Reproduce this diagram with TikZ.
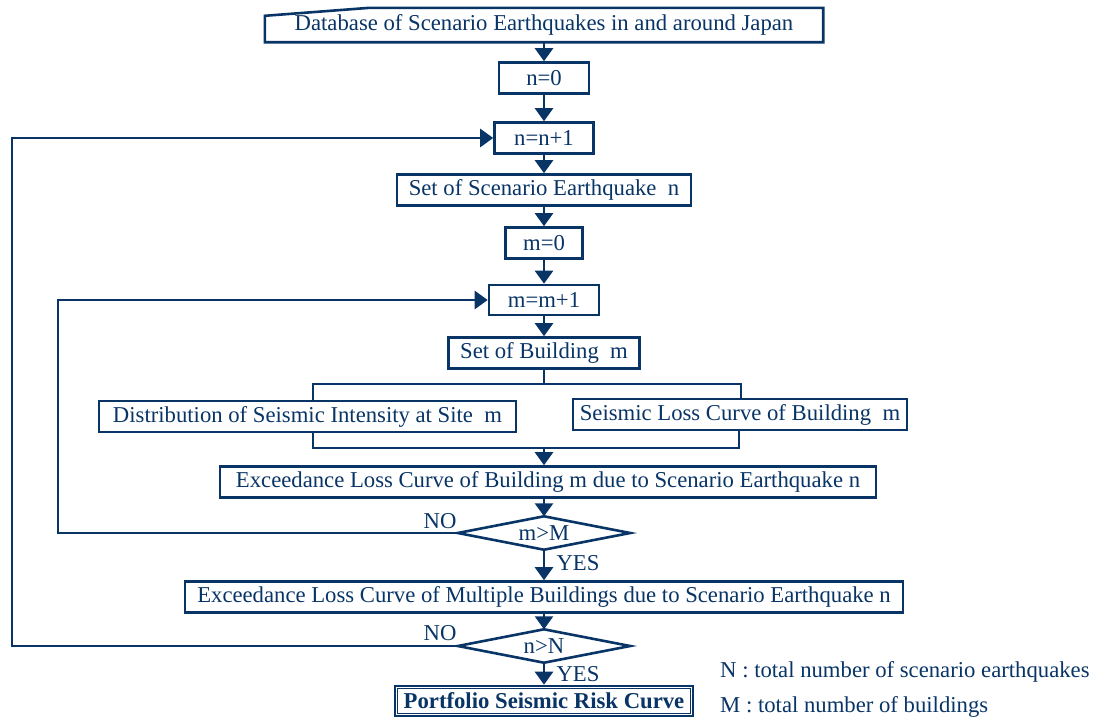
\documentclass[tikz,border=0pt]{standalone}
\usepackage{fontspec}
\setmainfont{Liberation Serif}
\usetikzlibrary{arrows.meta,shapes.geometric}
\definecolor{navy}{RGB}{8,52,102}
\begin{document}
\begin{tikzpicture}[x=1pt,y=-1pt,
  font=\fontsize{22.7}{26}\selectfont,
  box/.style={draw=navy, line width=2.6pt, inner sep=0pt, text=navy},
  plain/.style={inner sep=0pt, text=navy},
  arr/.style={-{Triangle[width=18pt,length=13pt]}, draw=navy, line width=2.6pt},
  ln/.style={draw=navy, line width=2.6pt},
  dia/.style={inner sep=0pt, text=navy, minimum width=172pt, minimum height=33pt}]
\useasboundingbox (0,0) rectangle (1095,720);

% database (manual input shape)
\node[plain, minimum width=558pt, minimum height=34pt] (db) at (544,25) {Database of Scenario Earthquakes in and around Japan};
\draw[ln, line join=miter] (db.south west) -- ([yshift=-8pt]db.north west) -- ([xshift=105pt]db.north west) -- (db.north east) -- (db.south east) -- cycle;

\node[box, minimum width=90pt, minimum height=31pt] (n0) at (544,78) {n=0};
\node[box, minimum width=99pt, minimum height=31pt] (n1) at (544,138) {n=n+1};
\node[box, minimum width=294pt, minimum height=31pt] (sen) at (544,190) {Set of Scenario Earthquake\ \ n};
\node[box, minimum width=77pt, minimum height=31pt] (m0) at (544,243) {m=0};
\node[box, minimum width=110pt, minimum height=30pt] (m1) at (544,300) {m=m+1};
\node[box, minimum width=191pt, minimum height=31pt] (sb) at (544,353) {Set of Building\ \ m};
\node[box, minimum width=417pt, minimum height=31pt] (dist) at (307.5,416.5) {Distribution of Seismic Intensity at Site\ \ m};
\node[box, minimum width=334pt, minimum height=31pt] (loss) at (740,414.5) {Seismic Loss Curve of Building\ \ m};
\node[box, minimum width=656pt, minimum height=31pt] (ex1) at (548,482) {Exceedance Loss Curve of Building m due to Scenario Earthquake n};
\node[dia] (d1) at (544,533) {m>M};
\draw[ln, line join=miter] (d1.west) -- (d1.north) -- (d1.east) -- (d1.south) -- cycle;
\node[box, minimum width=718pt, minimum height=31pt] (ex2) at (544,597) {Exceedance Loss Curve of Multiple Buildings due to Scenario Earthquake n};
\node[dia] (d2) at (544,646) {n>N};
\draw[ln, line join=miter] (d2.west) -- (d2.north) -- (d2.east) -- (d2.south) -- cycle;
\node[box, minimum width=298pt, minimum height=30pt, font=\fontsize{22.7}{26}\selectfont\bfseries] (pf) at (544,701) {Portfolio Seismic Risk Curve};
\draw[navy, line width=1.2pt] ([shift={(3.6pt,-3.6pt)}]pf.north west) rectangle ([shift={(-3.6pt,3.6pt)}]pf.south east);

% labels
\node[plain] (no1) at (440,521) {NO};
\node[plain] (yes1) at (578,563) {YES};
\node[plain] (no2) at (440,633) {NO};
\node[plain] (yes2) at (578,674) {YES};
\node[plain, anchor=west] (lgN) at (720,672) {N : total number of scenario earthquakes};
\node[plain, anchor=west] (lgM) at (720,707) {M : total number of buildings};

% main flow
\draw[arr] (db) -- (n0);
\draw[arr] (n0) -- (n1);
\draw[arr] (n1) -- (sen);
\draw[arr] (sen) -- (m0);
\draw[arr] (m0) -- (m1);
\draw[arr] (m1) -- (sb);

% branch
\coordinate (br) at (544,384);
\coordinate (brL) at (313,384);
\coordinate (brR) at (741,384);
\draw[ln] (sb) -- (br);
\draw[ln, line cap=rect] (brL) -- (brR);
\draw[ln] (brL) -- (brL |- dist.north);
\draw[ln] (brR) -- (brR |- loss.north);

% merge
\coordinate (mg) at (544,448);
\coordinate (mgL) at (313,448);
\coordinate (mgR) at (739,448);
\draw[ln, line join=miter] (mgL |- dist.south) -- (mgL) -- (mgR) -- (mgR |- loss.south);
\draw[arr] (mg) -- (mg |- ex1.north);

\draw[arr] (ex1.south -| d1.north) -- (d1.north);
\draw[arr] (d1.south) -- (ex2.north -| d1.south);
\draw[arr] (ex2.south -| d2.north) -- (d2.north);
\draw[arr] (d2.south) -- (pf.north -| d2.south);

% loops
\coordinate (cm) at (58,533);
\coordinate (cn) at (12,646);
\draw[arr, line join=miter] (d1.west) -- (d1.west -| cm) -- (cm |- m1) -- (m1.west);
\draw[arr, line join=miter] (d2.west) -- (d2.west -| cn) -- (cn |- n1) -- (n1.west);
\end{tikzpicture}
\end{document}
